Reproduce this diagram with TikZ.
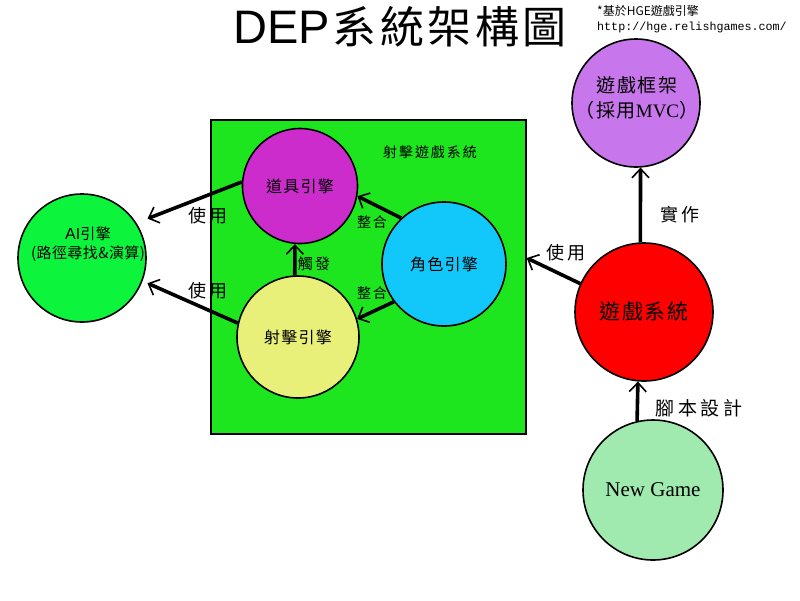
\documentclass[tikz,border=0pt]{standalone}
\usepackage{fontspec}
\setmainfont{Noto Sans CJK TC}
\newfontfamily\lsans{Liberation Sans}
\newfontfamily\lserif{Liberation Serif}
\newfontfamily\lmono{Liberation Mono}
\newfontfamily\cjkwide[LetterSpace=14]{Noto Sans CJK TC}
\newfontfamily\cjkwider[LetterSpace=20]{Noto Sans CJK TC}
\newfontfamily\cjkmid[LetterSpace=8]{Noto Sans CJK TC}
\newfontfamily\cjksmall[LetterSpace=3]{Noto Sans CJK TC}
\usetikzlibrary{arrows.meta}
\definecolor{cBox}{RGB}{30,230,30}
\definecolor{cDJ}{RGB}{204,44,204}
\definecolor{cJS}{RGB}{18,200,250}
\definecolor{cSJ}{RGB}{232,240,122}
\definecolor{cAI}{RGB}{12,244,60}
\definecolor{cKJ}{RGB}{200,118,236}
\definecolor{cYS}{RGB}{255,0,0}
\definecolor{cNG}{RGB}{160,234,176}
\begin{document}
\begin{tikzpicture}[x=1pt,y=-1pt,
  circ/.style={circle,draw=black,line width=1.6pt,inner sep=0pt,align=center},
  conn/.style={line width=3.6pt,-{Straight Barb[length=9pt,width=17pt,line width=1.6pt]}},
  elab/.style={font=\cjkwider\fontsize{18}{20}\selectfont,inner sep=0pt},
  slab/.style={font=\cjkwide\fontsize{14}{16}\selectfont,inner sep=0pt}]
\useasboundingbox (0,0) rectangle (800,600);
% title and note
\node[inner sep=0pt] (title) at (400,27) {{\lsans\fontsize{47}{50}\selectfont DEP}\hspace{3pt}{\cjkmid\fontsize{44}{48}\selectfont 系統架構圖}};
\node[anchor=west,inner sep=0pt,font=\fontsize{12}{14}\selectfont] (note1) at (597,11) {*基於HGE遊戲引擎};
\node[anchor=west,inner sep=0pt,font=\lmono\fontsize{11.7}{13}\selectfont] (note2) at (597,27) {http://hge.relishgames.com/};
% box
\node[draw=black,line width=1.5pt,fill=cBox,minimum width=315pt,minimum height=314pt,inner sep=0pt] (rect) at (368.5,277) {};
\node[slab] (rlab) at (430,152) {射擊遊戲系統};
% circles
\node[circ,fill=cDJ,minimum size=115pt,font=\cjkmid\fontsize{16}{18}\selectfont] (dj) at (300,186) {道具引擎};
\node[circ,fill=cJS,minimum size=124pt,font=\cjkmid\fontsize{16}{18}\selectfont] (js) at (444,264) {角色引擎};
\node[circ,fill=cSJ,minimum size=122pt,font=\cjkmid\fontsize{16}{18}\selectfont] (sj) at (298,337) {射擊引擎};
\node[circ,fill=cAI,minimum size=128pt] (ai) at (82,258) {};
\node[inner sep=0pt,align=center,font=\cjksmall\fontsize{15}{19}\selectfont] (ailab) at (88,244) {{\lsans\fontsize{16}{19}\selectfont AI}引擎\\(路徑尋找\&演算)};
\node[circ,fill=cKJ,minimum size=128pt] (kj) at (636,103) {};
\node[inner sep=0pt,align=center,font=\cjkmid\fontsize{19}{25}\selectfont] (kjlab) at (637,98) {遊戲框架\\（採用{\lserif MVC}）};
\node[circ,fill=cYS,minimum size=138pt,font=\cjkmid\fontsize{21}{23}\selectfont] (ys) at (644,312) {遊戲系統};
\node[circ,fill=cNG,minimum size=140pt,font=\lserif\fontsize{21}{23}\selectfont] (ng) at (653,490) {New Game};
% connectors
\draw[conn] (dj.176) -- ([shift={(10,-6)}]ai.31.6);
\draw[conn] (sj.167) -- ([shift={(5,2)}]ai.-21);
\draw[conn] (js.133) -- (dj.-10);
\draw[conn] (js.217) -- (sj.17.6);
\draw[conn] (sj.93) -- (dj.-95);
\draw[conn] (ys.156.5) -- ([yshift=19pt]rect.east);
\draw[conn] (ys.93.3) -- (kj.-86.4);
\draw[conn] (ng.103) -- (ys.-95.8);
% connector labels
\node[elab] (l1) at (208,216) {使用};
\node[elab] (l2) at (208,291) {使用};
\node[slab] (l3) at (372,222) {整合};
\node[slab] (l4) at (372,293) {整合};
\node[slab,font=\cjkwide\fontsize{15}{16}\selectfont] (l5) at (314,264) {觸發};
\node[elab] (l6) at (566,253) {使用};
\node[elab] (l7) at (680,215) {實作};
\node[elab,font=\cjkwider\fontsize{19}{20}\selectfont] (l8) at (699,408) {腳本設計};
\end{tikzpicture}
\end{document}
